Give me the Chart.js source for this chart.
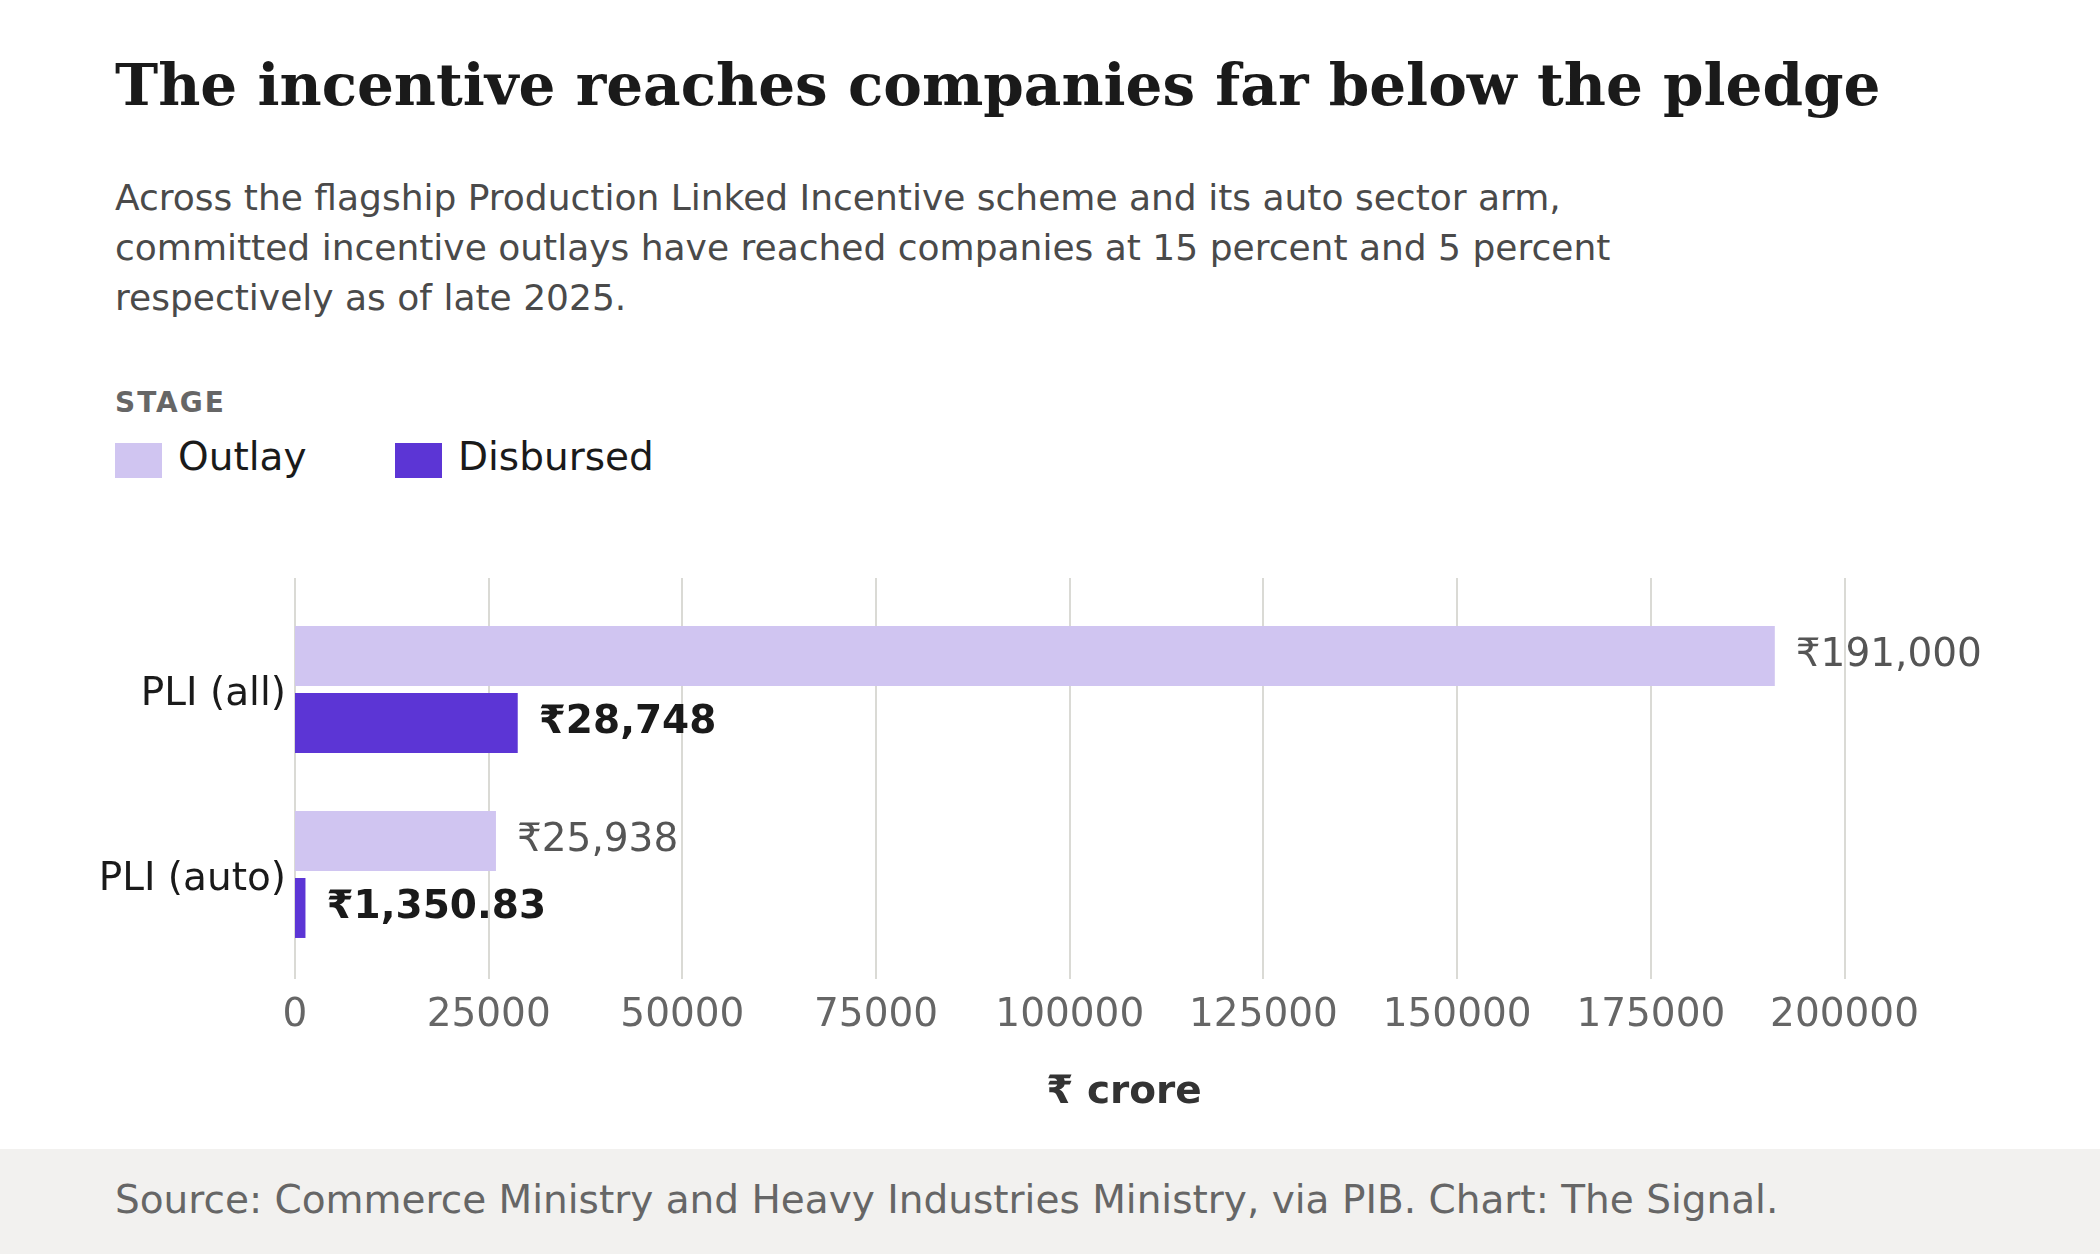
<!DOCTYPE html>
<html>
<head>
<meta charset="utf-8">
<script src="https://cdn.jsdelivr.net/npm/chart.js@4.4.1/dist/chart.umd.min.js"></script>
<style>
  html, body { margin: 0; padding: 0; background: #fff; }
  body { width: 2100px; height: 1254px; position: relative; overflow: hidden; font-family: "DejaVu Sans", sans-serif; }
  .title { position: absolute; left: 115px; top: 50px; font-family: "DejaVu Serif", serif; font-weight: bold; font-size: 58px; line-height: 70px; color: #1a1a1a; white-space: nowrap; }
  .subtitle { position: absolute; left: 115px; top: 173px; font-size: 36px; line-height: 50px; color: #4a4a4a; white-space: nowrap; }
  .stage { position: absolute; left: 115px; top: 386px; font-size: 28px; line-height: 34px; font-weight: bold; color: #666; letter-spacing: 2px; }
  .swatch { position: absolute; top: 443px; width: 47px; height: 35px; }
  .legtext { position: absolute; top: 434px; font-size: 39px; line-height: 46px; color: #1a1a1a; white-space: nowrap; }
  .chartbox { position: absolute; left: 0; top: 560px; width: 2100px; height: 590px; }
  .footer { position: absolute; left: 0; top: 1149px; width: 2100px; height: 105px; background: #f2f1ef; }
  .source { position: absolute; left: 115px; top: 26px; font-size: 39px; line-height: 50px; color: #666; white-space: nowrap; }
</style>
</head>
<body>
<div class="title">The incentive reaches companies far below the pledge</div>
<div class="subtitle">Across the flagship Production Linked Incentive scheme and its auto sector arm,<br>committed incentive outlays have reached companies at 15 percent and 5 percent<br>respectively as of late 2025.</div>
<div class="stage">STAGE</div>
<div class="swatch" style="left:115px; background:#d0c5f1;"></div>
<div class="legtext" style="left:178px;">Outlay</div>
<div class="swatch" style="left:395px; background:#5c35d5;"></div>
<div class="legtext" style="left:458px;">Disbursed</div>
<div class="chartbox"><canvas id="myChart"></canvas></div>
<div class="footer"><div class="source">Source: Commerce Ministry and Heavy Industries Ministry, via PIB. Chart: The Signal.</div></div>

<script>
const categories = ["PLI (all)", "PLI (auto)"];
const outlay = [191000, 25938];
const disbursed = [28748, 1350.83];
const xTicks = [0, 25000, 50000, 75000, 100000, 125000, 150000, 175000, 200000];
const xMax = 214000;

const outlayColor = "#d0c5f1";
const disbursedColor = "#5c35d5";

Chart.defaults.font.family = '"DejaVu Sans", sans-serif';

// grid lines run a bit past the bars, top and bottom
const extendedGrid = {
    id: "extendedGrid",
    beforeDatasetsDraw(chart) {
        const { ctx, chartArea, scales } = chart;
        ctx.save();
        ctx.strokeStyle = "#dadad5";
        ctx.lineWidth = 2;
        scales.x.ticks.forEach(t => {
            const px = Math.round(scales.x.getPixelForValue(t.value));
            ctx.beginPath();
            ctx.moveTo(px, chartArea.top - 19);
            ctx.lineTo(px, chartArea.bottom + 12);
            ctx.stroke();
        });
        ctx.restore();
    }
};

const valueLabels = {
    id: "valueLabels",
    afterDatasetsDraw(chart) {
        const ctx = chart.ctx;
        chart.data.datasets.forEach((ds, i) => {
            const meta = chart.getDatasetMeta(i);
            const bold = i === 1;
            meta.data.forEach((bar, j) => {
                const v = ds.data[j];
                const txt = "₹" + v.toLocaleString("en-US", { maximumFractionDigits: 2 });
                ctx.save();
                ctx.font = (bold ? "bold " : "") + '39px "DejaVu Sans"';
                ctx.fillStyle = bold ? "#1a1a1a" : "#555555";
                ctx.textBaseline = "middle";
                ctx.textAlign = "left";
                ctx.fillText(txt, bar.x + 21, bar.y);
                ctx.restore();
            });
        });
    }
};

const myChart = new Chart("myChart", {
    type: "bar",
    data: {
        labels: categories,
        datasets: [
            { label: "Outlay", data: outlay, backgroundColor: outlayColor },
            { label: "Disbursed", data: disbursed, backgroundColor: disbursedColor }
        ]
    },
    options: {
        indexAxis: "y",
        responsive: true,
        maintainAspectRatio: false,
        animation: false,
        devicePixelRatio: 1,
        categoryPercentage: 0.724,
        barPercentage: 0.8955,
        layout: { padding: { top: 37, right: 147, bottom: 34, left: 0 } },
        plugins: {
            legend: { display: false },
            tooltip: { enabled: false }
        },
        scales: {
            x: {
                type: "linear",
                min: 0,
                max: xMax,
                grid: { display: false },
                border: { display: false },
                afterBuildTicks: scale => { scale.ticks = xTicks.map(v => ({ value: v })); },
                afterFit: scale => { scale.height = 149; },
                ticks: {
                    color: "#666",
                    font: { size: 39 },
                    padding: 17,
                    maxRotation: 0,
                    callback: v => String(v)
                },
                title: {
                    display: true,
                    text: "₹ crore",
                    color: "#333",
                    font: { size: 39, weight: "bold" },
                    padding: { top: 0, bottom: 0 }
                }
            },
            y: {
                grid: { display: false },
                border: { display: false },
                afterFit: scale => { scale.width = 295; },
                ticks: {
                    color: "#1a1a1a",
                    font: { size: 39 },
                    padding: 1,
                    labelOffset: 5
                }
            }
        }
    },
    plugins: [extendedGrid, valueLabels]
});
</script>
</body>
</html>
